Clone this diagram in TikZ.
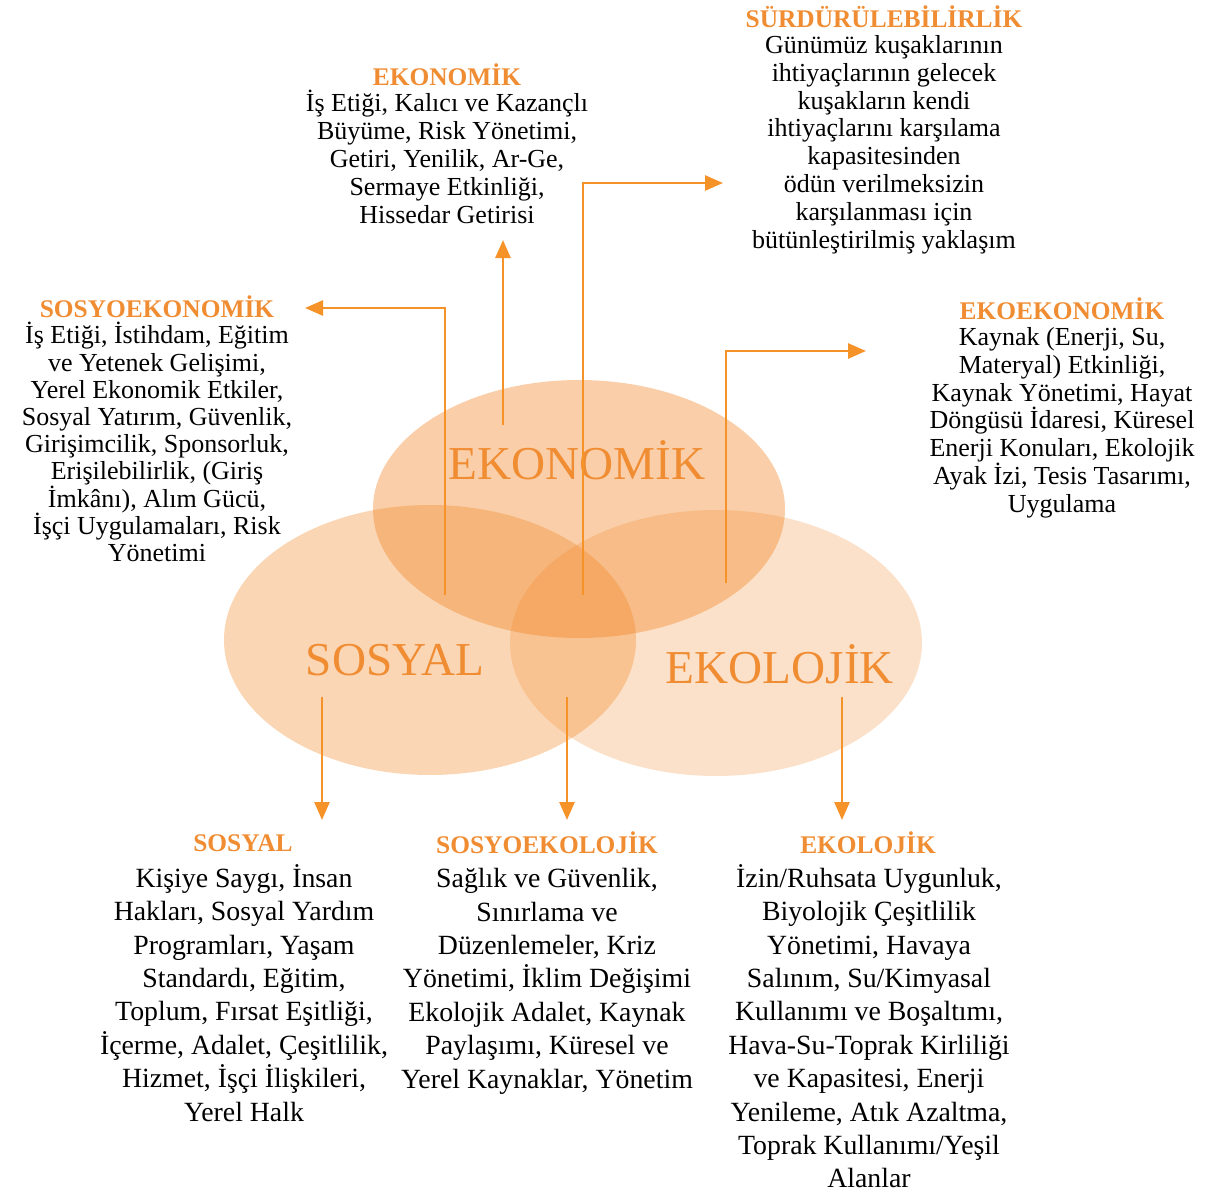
\documentclass[tikz,border=0pt]{standalone}
\usepackage{fontspec}
\setmainfont{Liberation Serif}
\usepackage{xcolor}
\usetikzlibrary{arrows.meta}
\definecolor{venn}{RGB}{240,130,30}
\definecolor{baslik}{RGB}{240,140,50}
\definecolor{okrenk}{RGB}{245,146,40}

\begin{document}
\begin{tikzpicture}[x=0.5pt,y=-0.5pt,
    head/.style={text=baslik, font=\fontsize{12.7}{14}\selectfont\bfseries, inner sep=0pt},
    body/.style={align=center, anchor=north, inner sep=0pt, font=\fontsize{13}{13.9}\selectfont},
    bodyb/.style={align=center, anchor=north, inner sep=0pt, font=\fontsize{13.9}{16.7}\selectfont},
    big/.style={text=baslik, inner sep=0pt, font=\fontsize{23.6}{26}\selectfont},
    okcizgi/.style={draw=okrenk, line width=1.3pt, -{Triangle[length=9pt,width=7.5pt]}}]
    \useasboundingbox (0,0) rectangle (1207,1194);

    % Venn ellipses
    \fill[venn, opacity=0.39] (579,509) ellipse [x radius=206, y radius=129];
    \fill[venn, opacity=0.33] (430,640) ellipse [x radius=206, y radius=135];
    \fill[venn, opacity=0.24] (716,643) ellipse [x radius=206, y radius=133];

    % Big labels
    \node[big] (ekonomi) at (577,460) {EKONOMİK};
    \node[big] (sosyal) at (395,660) {SOSYAL};
    \node[big] (ekoloji) at (780,664) {EKOLOJİK};

    % Top texts
    \node[head] (surH) at (884,17) {SÜRDÜRÜLEBİLİRLİK};
    \node[body] (surB) at (884,35) {Günümüz kuşaklarının\\ihtiyaçlarının gelecek\\kuşakların kendi\\ihtiyaçlarını karşılama\\kapasitesinden\\ödün verilmeksizin\\karşılanması için\\bütünleştirilmiş yaklaşım};

    \node[head] (ekoH) at (447,75) {EKONOMİK};
    \node[body] (ekoB) at (447,90) {İş Etiği, Kalıcı ve Kazançlı\\Büyüme, Risk Yönetimi,\\Getiri, Yenilik, Ar-Ge,\\Sermaye Etkinliği,\\Hissedar Getirisi};

    \node[head] (sosekoH) at (157,307) {SOSYOEKONOMİK};
    \node[body, font=\fontsize{13}{13.6}\selectfont] (sosekoB) at (157,322) {İş Etiği, İstihdam, Eğitim\\ve Yetenek Gelişimi,\\Yerel Ekonomik Etkiler,\\Sosyal Yatırım, Güvenlik,\\Girişimcilik, Sponsorluk,\\Erişilebilirlik, (Giriş\\İmkânı), Alım Gücü,\\İşçi Uygulamaları, Risk\\Yönetimi};

    \node[head] (ekoekoH) at (1062,309) {EKOEKONOMİK};
    \node[body] (ekoekoB) at (1062,327) {Kaynak (Enerji, Su,\\Materyal) Etkinliği,\\Kaynak Yönetimi, Hayat\\Döngüsü İdaresi, Küresel\\Enerji Konuları, Ekolojik\\Ayak İzi, Tesis Tasarımı,\\Uygulama};

    % Bottom texts
    \node[head] (sosH) at (243,843) {SOSYAL};
    \node[bodyb] (sosB) at (244,864) {Kişiye Saygı, İnsan\\Hakları, Sosyal Yardım\\Programları, Yaşam\\Standardı, Eğitim,\\Toplum, Fırsat Eşitliği,\\İçerme, Adalet, Çeşitlilik,\\Hizmet, İşçi İlişkileri,\\Yerel Halk};

    \node[head] (sosekolH) at (547,843) {SOSYOEKOLOJİK};
    \node[bodyb] (sosekolB) at (547,868) {Sağlık ve Güvenlik,\\Sınırlama ve\\Düzenlemeler, Kriz\\Yönetimi, İklim Değişimi\\Ekolojik Adalet, Kaynak\\Paylaşımı, Küresel ve\\Yerel Kaynaklar, Yönetim};

    \node[head] (ekolH) at (868,843) {EKOLOJİK};
    \node[bodyb] (ekolB) at (869,864) {İzin/Ruhsata Uygunluk,\\Biyolojik Çeşitlilik\\Yönetimi, Havaya\\Salınım, Su/Kimyasal\\Kullanımı ve Boşaltımı,\\Hava-Su-Toprak Kirliliği\\ve Kapasitesi, Enerji\\Yenileme, Atık Azaltma,\\Toprak Kullanımı/Yeşil\\Alanlar};

    % Arrow ends
    \coordinate (s1) at (445,595); \coordinate (t1) at (305,308);
    \coordinate (s2) at (503,425); \coordinate (t2) at (503,240);
    \coordinate (s3) at (583,595); \coordinate (t3) at (723,183);
    \coordinate (s4) at (726,583); \coordinate (t4) at (866,351);
    \coordinate (s5) at (322,697); \coordinate (t5) at (322,820);
    \coordinate (s6) at (567,697); \coordinate (t6) at (567,820);
    \coordinate (s7) at (842,697); \coordinate (t7) at (842,820);

    % Arrows
    \draw[okcizgi] (s1) |- (t1);
    \draw[okcizgi] (s2) -- (t2);
    \draw[okcizgi] (s3) |- (t3);
    \draw[okcizgi] (s4) |- (t4);
    \draw[okcizgi] (s5) -- (t5);
    \draw[okcizgi] (s6) -- (t6);
    \draw[okcizgi] (s7) -- (t7);
\end{tikzpicture}
\end{document}
